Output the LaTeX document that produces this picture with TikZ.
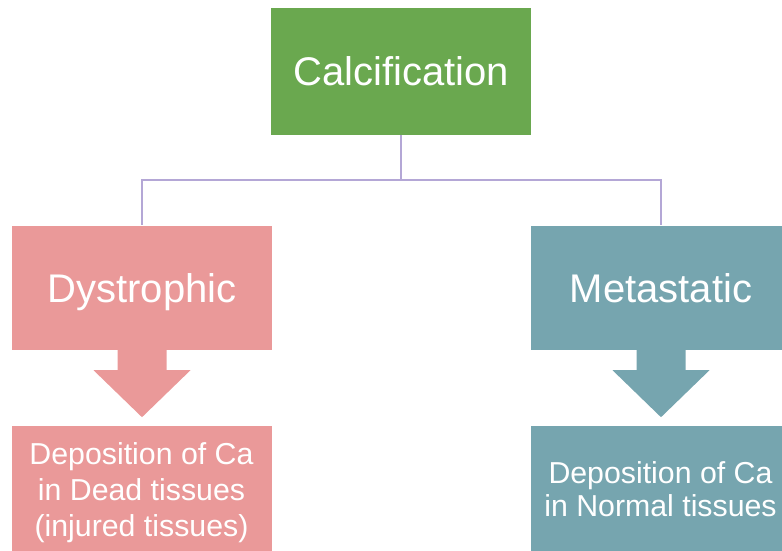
\documentclass[tikz,border=0pt]{standalone}
\usepackage{fontspec}
\setmainfont{Liberation Sans}
\definecolor{cgreen}{HTML}{6AA84F}
\definecolor{cpink}{HTML}{EA9999}
\definecolor{cteal}{HTML}{76A5AF}
\definecolor{cline}{HTML}{B4A7D6}
\begin{document}
\begin{tikzpicture}[x=1pt,y=-1pt,
  box/.style={draw=none,inner sep=0pt,minimum width=260pt,text=white},
  bigtext/.style={font=\fontsize{40}{48}\selectfont,text height=28.6pt,text depth=0pt},
  smalltext/.style={text=white,inner sep=0pt,align=center,anchor=north},
  conn/.style={draw=cline,line width=2pt}]
\useasboundingbox (0,0) rectangle (782,550);
\clip (0,0) rectangle (782,550);
% boxes
\node[box,bigtext,fill=cgreen,minimum height=127.5pt] (calc) at (401,71.5) {Calcification};
\node[box,bigtext,fill=cpink,minimum height=124.5pt] (dys) at (142,287.75) {Dystrophic};
\node[box,bigtext,fill=cteal,minimum height=124.5pt] (met) at (661,287.75) {Metastatic};
\node[box,fill=cpink,minimum height=125pt] (dysb) at (142,488) {};
\node[box,fill=cteal,minimum height=125pt] (metb) at (661,488) {};
% bottom texts
\node[smalltext,font=\fontsize{30.3}{36}\selectfont] (dyst) at (141.5,442.5) {Deposition of Ca\\in Dead tissues\\(injured tissues)};
\node[smalltext,font=\fontsize{30.3}{33.5}\selectfont] (mett) at (660.5,461) {Deposition of Ca\\in Normal tissues};
% connectors
\draw[conn] (calc.south) -- ++(0,45) coordinate (mid) -| (dys.north);
\draw[conn] (mid) -| (met.north);
% block arrows
\fill[cpink] ([xshift=-24.5pt]dys.south) -- ++(0,20) -- ++(-24,0) -- ([yshift=-67pt]dys.south) -- ++(48.5,-47) -- ++(-24,0) -- ([xshift=24.5pt]dys.south) -- cycle;
\fill[cteal] ([xshift=-24.5pt]met.south) -- ++(0,20) -- ++(-24,0) -- ([yshift=-67pt]met.south) -- ++(48.5,-47) -- ++(-24,0) -- ([xshift=24.5pt]met.south) -- cycle;
\end{tikzpicture}
\end{document}
